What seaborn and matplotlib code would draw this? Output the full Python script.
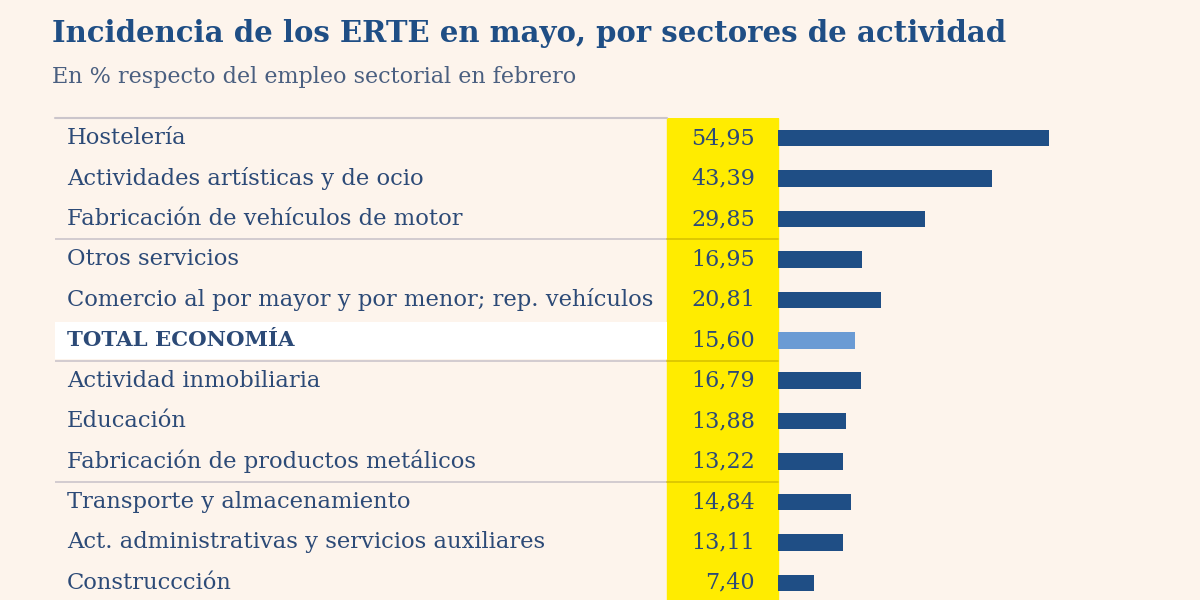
import numpy as np
import pandas as pd
import matplotlib.pyplot as plt
import seaborn as sns

# Data ==============================================================================
sectores = [
    'Hostelería',
    'Actividades artísticas y de ocio',
    'Fabricación de vehículos de motor',
    'Otros servicios',
    'Comercio al por mayor y por menor; rep. vehículos',
    'TOTAL ECONOMÍA',
    'Actividad inmobiliaria',
    'Educación',
    'Fabricación de productos metálicos',
    'Transporte y almacenamiento',
    'Act. administrativas y servicios auxiliares',
    'Construccción',
]
incidencia = [54.95, 43.39, 29.85, 16.95, 20.81, 15.60, 16.79, 13.88, 13.22, 14.84, 13.11, 7.40]
total_label = 'TOTAL ECONOMÍA'

df = pd.DataFrame({'sector': sectores, 'valor': incidencia})

# Style ==============================================================================
BG = '#fdf4ec'
DARK = '#1f4e85'
LIGHT = '#6b9bd4'
TXT = '#2c4a77'
YELLOW = '#ffec00'
LINE = '#cbc5cb'

sns.set_theme(style='white')
plt.rcParams['font.family'] = ['DejaVu Serif']

fig = plt.figure(figsize=(12, 6), dpi=100, facecolor=BG)
ax = fig.add_axes([55/1200, -3/600, 1145/1200, 485/600])
ax.set_facecolor(BG)

px = 4.93  # pixels per unit
x_left = -(778 - 55) / px
x_right = (1200 - 778) / px
x_yel = -(778 - 667) / px

palette = {s: (LIGHT if s == total_label else DARK) for s in sectores}
sns.barplot(data=df, x='valor', y='sector', hue='sector', palette=palette,
            orient='h', width=0.41, legend=False, ax=ax, saturation=1,
            linewidth=0, edgecolor='none')

ax.set_xlim(x_left, x_right)
ax.set_ylim(len(sectores) - 0.5, -0.5)

# yellow column and TOTAL highlight
ax.axvspan(x_yel, 0, color=YELLOW, zorder=0)
i_tot = sectores.index(total_label)
ax.fill_between([x_left, x_yel], i_tot - 0.45, i_tot + 0.47, color='white', zorder=0, lw=0)

# separator lines
ax.plot([x_left, x_yel], [-0.5, -0.5], color=LINE, lw=1.5, zorder=1, clip_on=False)
for k in [2.5, 5.5, 8.5]:
    ax.plot([x_left, x_yel], [k, k], color=LINE, lw=1.2, zorder=1)
    ax.plot([x_yel, 0], [k, k], color='#d8c200', lw=1.2, zorder=1)

for i, (s, v) in enumerate(zip(sectores, incidencia)):
    bold = s == total_label
    ax.text(x_left + 12/px, i, s, ha='left', va='center', fontsize=15.3 if bold else 16.3,
            color=TXT, fontweight='bold' if bold else 'normal')
    ax.text(-23/px, i, f'{v:.2f}'.replace('.', ','), ha='right', va='center',
            fontsize=16, color=TXT)

ax.set_xlabel('')
ax.set_ylabel('')
ax.set_xticks([])
ax.set_yticks([])
sns.despine(ax=ax, left=True, bottom=True)

fig.text(52/1200, 1 - 34/600, 'Incidencia de los ERTE en mayo, por sectores de actividad',
         fontsize=21, fontweight='bold', color=DARK, va='center')
fig.text(52/1200, 1 - 77/600, 'En % respecto del empleo sectorial en febrero',
         fontsize=16, color='#4a5f80', va='center')

fig.savefig('out.png', dpi=100, facecolor=BG)
